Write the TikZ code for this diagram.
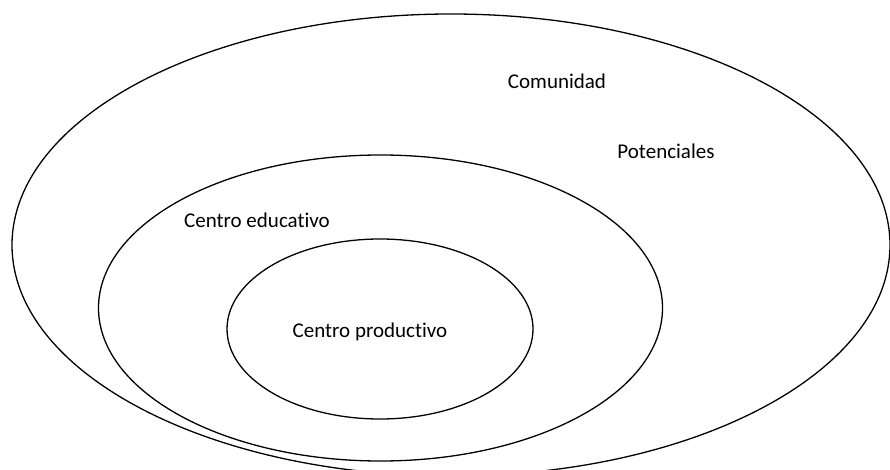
\documentclass[tikz,border=0pt]{standalone}
\usepackage{fontspec}
\setmainfont{Carlito}[Ligatures=NoCommon]
\usetikzlibrary{shapes.geometric}
\tikzset{
  ring/.style={draw=black, line width=1.3pt, ellipse, inner sep=0pt, outer sep=0pt},
  lbl/.style={font=\fontsize{21}{25}\selectfont, inner sep=0pt, anchor=center}
}
\begin{document}
\begin{tikzpicture}[x=1pt,y=-1pt]
\useasboundingbox (0,0) rectangle (890,470);
\clip (0,0) rectangle (890,470);
\fill[white] (0,0) rectangle (890,470);
\node[ring, minimum width=878pt, minimum height=462pt] (outer) at (451,245) {};
\node[ring, minimum width=564pt, minimum height=306pt] (middle) at (380.5,308) {};
\node[ring, minimum width=306pt, minimum height=180pt] (inner) at (380,329) {};
\node[lbl] (comunidad) at (557,81) {Comunidad};
\node[lbl] (potenciales) at (666,151) {Potenciales};
\node[lbl] (educativo) at (257,220) {Centro educativo};
\node[lbl] (productivo) at (370,332) {Centro productivo};
\end{tikzpicture}
\end{document}
